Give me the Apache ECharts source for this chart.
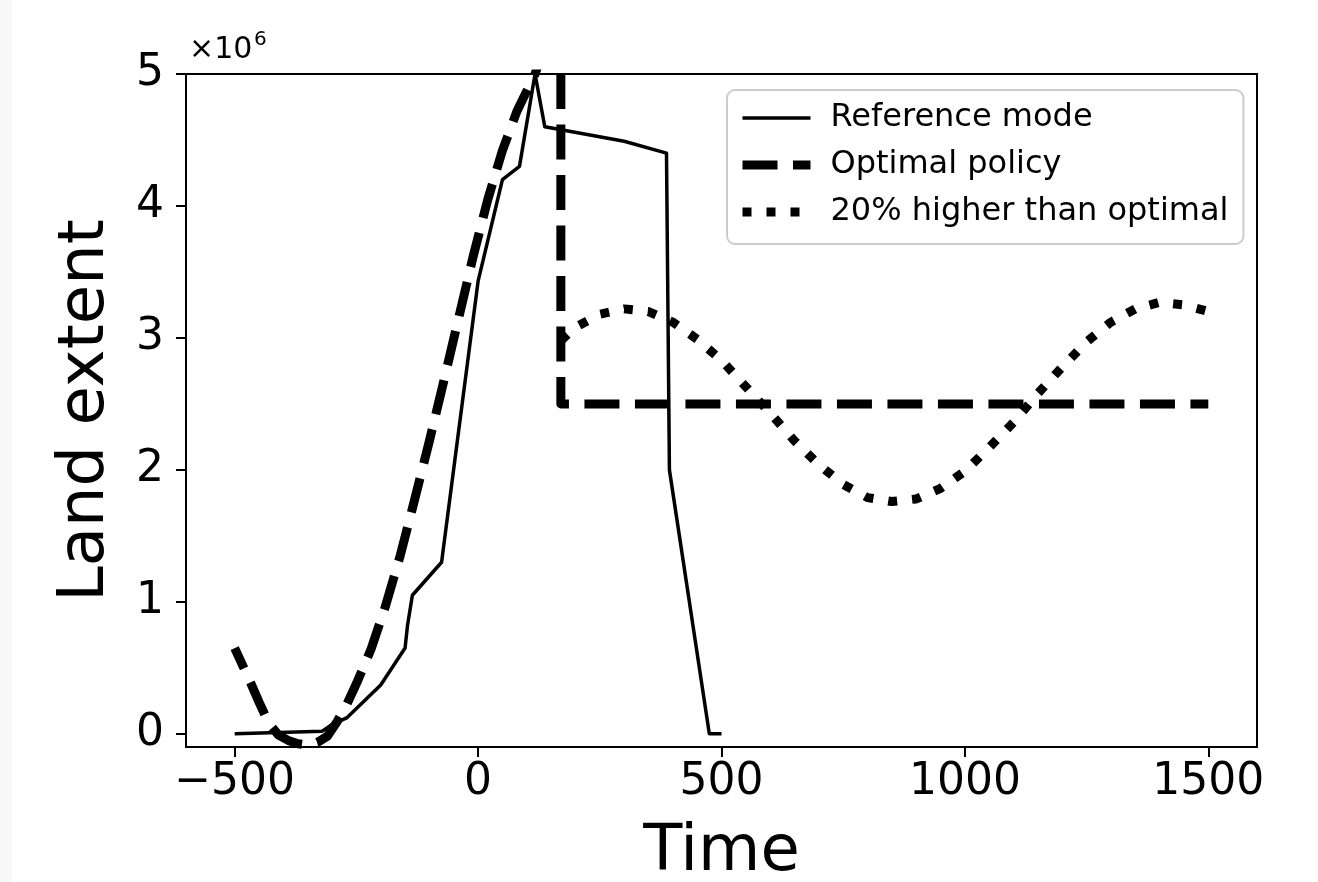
<!DOCTYPE html>
<html>
<head>
<meta charset="utf-8">
<script src="https://cdn.jsdelivr.net/npm/echarts@6/dist/echarts.min.js"></script>
<style>
  html, body { margin: 0; padding: 0; background: #fff; }
  #chart { position: absolute; left: 0; top: 0; width: 1318px; height: 882px; }
  #edge { position: absolute; left: 0; top: 0; width: 12px; height: 882px; background: #f9f9f9; }
</style>
</head>
<body>
<div id="chart"></div>
<div id="edge"></div>
<script>
// Land extent, in units of 10^6

// Reference mode (solid)
const refTime   = [-500, -320, -300, -270, -200, -150, -145, -135, -75, 0, 50, 85, 117, 137, 300, 387, 393, 475, 500];
const refExtent = [0, 0.02, 0.07, 0.12, 0.37, 0.65, 0.82, 1.05, 1.30, 3.43, 4.20, 4.30, 5.0, 4.60, 4.49, 4.40, 2.0, 0, 0];

// Optimal policy (dashed)
const optTime   = [-500, -470, -450, -430, -410, -390, -370, -350, -330, -310, -290, -270, -250, -220, -190, -160, -130, -100, -70, -40, -10, 20, 50, 80, 117, 145, 170, 170, 1500];
const optExtent = [0.65, 0.41, 0.24, 0.08, -0.01, -0.05, -0.075, -0.085, -0.065, -0.02, 0.09, 0.22, 0.38, 0.64, 0.97, 1.35, 1.78, 2.22, 2.68, 3.15, 3.62, 4.05, 4.42, 4.72, 5.0, 5.3, 5.55, 2.5, 2.5];

// 20% higher than optimal (dotted)
const highTime   = [170, 200, 250, 300, 350, 400, 450, 500, 550, 600, 650, 700, 750, 800, 850, 900, 950, 1000, 1050, 1100, 1150, 1200, 1250, 1300, 1350, 1400, 1450, 1500];
const highExtent = [2.98, 3.08, 3.18, 3.22, 3.20, 3.12, 2.99, 2.83, 2.63, 2.43, 2.22, 2.04, 1.89, 1.79, 1.76, 1.78, 1.86, 1.99, 2.17, 2.36, 2.58, 2.78, 2.97, 3.12, 3.22, 3.27, 3.25, 3.20];

const seriesNames = ['Reference mode', 'Optimal policy', '20% higher than optimal'];
const xTicks = [-500, 0, 500, 1000, 1500];
const yTicks = [0, 1, 2, 3, 4, 5];
const Y_MIN = -0.1, Y_MAX = 5;

const FONT = 'DejaVu Sans';
const DASH = [35, 15.5];
const DOT = [9, 15];
const pairs = (xs, ys) => xs.map((x, i) => [x, ys[i]]);
const fmt = v => (v < 0 ? '\u2212' + Math.abs(v) : String(v));

const chart = echarts.init(document.getElementById('chart'), null, { renderer: 'canvas' });

chart.setOption({
  backgroundColor: '#fff',
  animation: false,
  textStyle: { fontFamily: FONT, color: '#000' },
  grid: {
    left: 186, right: 61, top: 74, bottom: 135,
    outerBoundsMode: 'none', containLabel: false,
    show: true, borderColor: '#000', borderWidth: 2, backgroundColor: 'transparent'
  },
  xAxis: {
    type: 'value', min: -600, max: 1600,
    name: 'Time', nameLocation: 'middle', nameGap: 74,
    nameTextStyle: { fontSize: 64, fontFamily: FONT, color: '#000' },
    axisLine: { show: true, onZero: false, lineStyle: { color: '#000', width: 2 } },
    axisTick: { show: true, length: 10, lineStyle: { color: '#000', width: 2 }, customValues: xTicks },
    axisLabel: { customValues: xTicks, formatter: fmt, fontSize: 44, fontFamily: FONT, color: '#000', margin: 14 },
    splitLine: { show: false }
  },
  yAxis: {
    type: 'value', min: Y_MIN, max: Y_MAX,
    name: 'Land extent', nameLocation: 'middle', nameGap: 68,
    nameTextStyle: { fontSize: 64, fontFamily: FONT, color: '#000' },
    axisLine: { show: true, onZero: false, lineStyle: { color: '#000', width: 2 } },
    axisTick: { show: true, length: 10, lineStyle: { color: '#000', width: 2 }, customValues: yTicks },
    axisLabel: { customValues: yTicks, formatter: fmt, fontSize: 44, fontFamily: FONT, color: '#000', margin: 22 },
    splitLine: { show: false }
  },
  legend: {
    orient: 'vertical', left: 727, top: 90,
    padding: [10, 15, 14, 11],
    itemWidth: 68, itemHeight: 14, itemGap: 11,
    backgroundColor: 'rgba(255,255,255,0.8)',
    borderColor: '#cccccc', borderWidth: 2, borderRadius: 8,
    itemStyle: { opacity: 0 },
    lineStyle: { width: 'inherit', dashOffset: 0 },
    textStyle: { fontSize: 32, fontFamily: FONT, color: '#000', lineHeight: 36, padding: [0, 0, 0, 15] },
    data: seriesNames
  },
  graphic: [
    { type: 'text', left: 189, top: 35, style: { text: '\u00d710', fontSize: 30, fontFamily: FONT, fill: '#000' } },
    { type: 'text', left: 254, top: 30, style: { text: '6', fontSize: 20, fontFamily: FONT, fill: '#000' } }
  ],
  series: [
    {
      name: seriesNames[0], type: 'line', data: pairs(refTime, refExtent),
      symbol: 'none', showSymbol: false, clip: true,
      lineStyle: { color: '#000', width: 3.5, type: 'solid', cap: 'butt', join: 'round' },
      itemStyle: { color: '#000' }
    },
    {
      name: seriesNames[1], type: 'line', data: pairs(optTime, optExtent),
      symbol: 'none', showSymbol: false, clip: true,
      lineStyle: { color: '#000', width: 9, type: DASH, dashOffset: 0, cap: 'butt', join: 'round' },
      itemStyle: { color: '#000' }
    },
    {
      name: seriesNames[2], type: 'line', data: pairs(highTime, highExtent),
      symbol: 'none', showSymbol: false, clip: true,
      lineStyle: { color: '#000', width: 9, type: DOT, dashOffset: 0, cap: 'butt', join: 'round' },
      itemStyle: { color: '#000' }
    }
  ]
});

// Phase the dashed line so a dash begins exactly where its vertical drop
// re-enters the plot at the top edge (keeps the wide stroke inside the frame).
(function alignDash() {
  const pts = pairs(optTime, optExtent).map(p => chart.convertToPixel({ gridIndex: 0 }, p));
  const topPx = chart.convertToPixel({ gridIndex: 0 }, [0, Y_MAX])[1];
  let len = 0;
  for (let i = 1; i < pts.length; i++) {
    const [x0, y0] = pts[i - 1], [x1, y1] = pts[i];
    const seg = Math.hypot(x1 - x0, y1 - y0);
    if (optExtent[i - 1] > Y_MAX && optExtent[i] <= Y_MAX) {
      len += seg * (topPx - y0) / (y1 - y0);
      break;
    }
    len += seg;
  }
  const period = DASH[0] + DASH[1];
  const offset = ((-len % period) + period) % period;
  chart.setOption({ series: [{}, { lineStyle: { dashOffset: offset } }, {}] });
})();
</script>
</body>
</html>
